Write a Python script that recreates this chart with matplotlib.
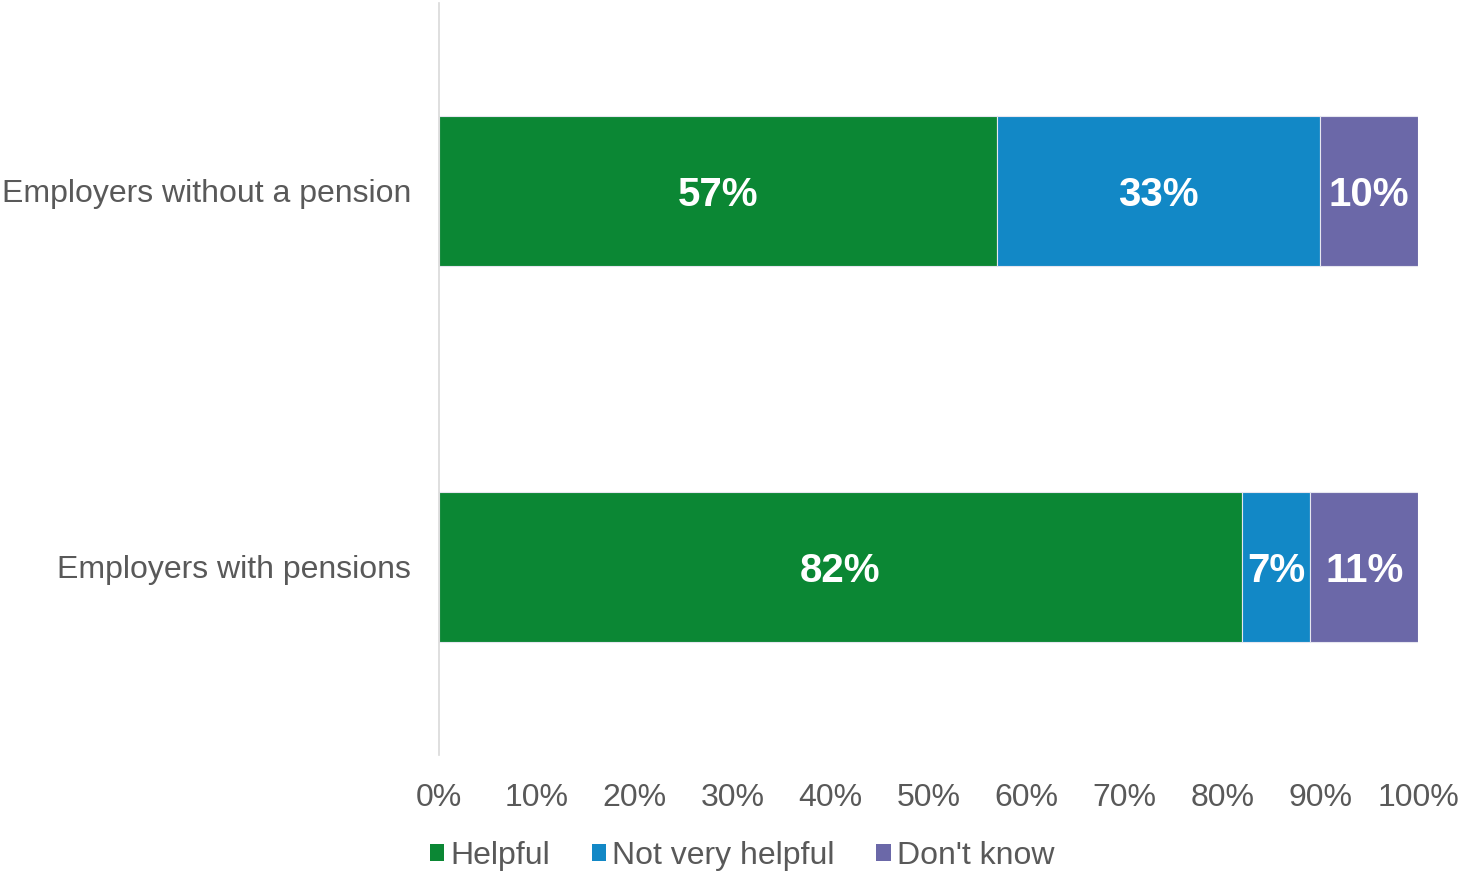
import numpy as np
import matplotlib.pyplot as plt
import matplotlib.ticker as mticker
from matplotlib.patches import Patch

plt.rcParams['font.family'] = ['Liberation Sans', 'DejaVu Sans']

groups = ['Employers with pensions', 'Employers without a pension']
helpful = [82, 57]
not_very_helpful = [7, 33]
dont_know = [11, 10]

series = [('Helpful', helpful, '#0B8734'),
          ('Not very helpful', not_very_helpful, '#1288C6'),
          ("Don't know", dont_know, '#6B68A8')]

grey = '#595959'

fig = plt.figure(figsize=(14.58, 8.71), dpi=100)
ax = fig.add_axes([0.3011, 0.1332, 0.6715, 0.8634])

y = np.arange(len(groups))
left = np.zeros(len(groups))
for name, vals, color in series:
    vals = np.array(vals, dtype=float)
    ax.barh(y, vals, left=left, height=0.4, color=color,
            edgecolor='#E6E6F0', linewidth=0.8, label=name)
    for yi, l, v in zip(y, left, vals):
        ax.text(l + v / 2, yi, f'{v:.0f}%', ha='center', va='center_baseline',
                color='white', fontsize=29, fontweight='bold')
    left += vals

ax.set_xlim(0, 100)
ax.set_ylim(-0.5, 1.5)
ax.xaxis.set_major_locator(mticker.MultipleLocator(10))
ax.xaxis.set_major_formatter(mticker.FuncFormatter(lambda v, p: f'{v:.0f}%'))
ax.set_yticks(y)
ax.set_yticklabels(groups)
ax.tick_params(axis='x', length=0, pad=20, labelsize=23, labelcolor=grey)
ax.tick_params(axis='y', length=0, pad=20, labelsize=23, labelcolor=grey)

for s in ['top', 'right', 'bottom']:
    ax.spines[s].set_visible(False)
ax.spines['left'].set_color('#D9D9D9')
ax.spines['left'].set_linewidth(1.2)

handles = [Patch(facecolor=c, label=n) for n, _, c in series]
fig.legend(handles=handles, loc='center', bbox_to_anchor=(0.509, 0.017),
           ncol=3, frameon=False, fontsize=23, labelcolor=grey,
           handlelength=0.45, handleheight=0.45, handletextpad=0.2,
           columnspacing=1.3, borderpad=0.2)

fig.savefig('out.png', dpi=100)
